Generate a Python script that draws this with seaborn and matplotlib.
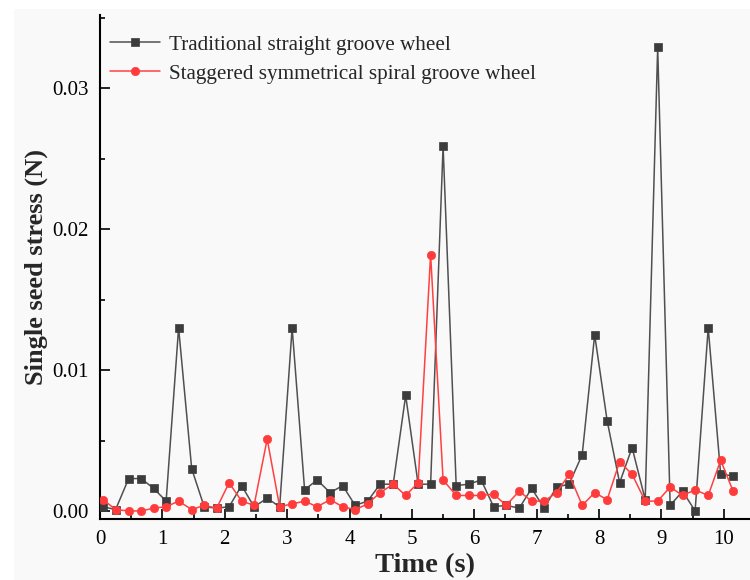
import matplotlib
matplotlib.use("Agg")
import matplotlib.pyplot as plt
from matplotlib.patches import Rectangle
from matplotlib.ticker import MultipleLocator, FormatStrFormatter
import pandas as pd
import seaborn as sns

# Sampling instants (s)
time_s = [0.05, 0.25, 0.46, 0.66, 0.86, 1.06, 1.26, 1.47, 1.67, 1.87,
          2.07, 2.27, 2.47, 2.68, 2.88, 3.08, 3.28, 3.48, 3.69, 3.89,
          4.09, 4.29, 4.49, 4.70, 4.90, 5.10, 5.30, 5.50, 5.71, 5.91,
          6.11, 6.31, 6.51, 6.72, 6.92, 7.12, 7.32, 7.52, 7.73, 7.93,
          8.13, 8.33, 8.53, 8.74, 8.94, 9.14, 9.34, 9.54, 9.75, 9.95,
          10.15]

# Single seed stress (N), traditional straight groove wheel
traditional = [0.0003, 0.0001, 0.0023, 0.0023, 0.0016, 0.0007, 0.0130, 0.0030, 0.0003, 0.0002,
               0.0003, 0.0018, 0.0003, 0.0009, 0.0003, 0.0130, 0.0015, 0.0022, 0.0013, 0.0018,
               0.0004, 0.0007, 0.0019, 0.0019, 0.0082, 0.0019, 0.0019, 0.0259, 0.0018, 0.0019,
               0.0022, 0.0003, 0.0004, 0.0002, 0.0016, 0.0002, 0.0017, 0.0019, 0.0040, 0.0125,
               0.0064, 0.0020, 0.0045, 0.0008, 0.0329, 0.0004, 0.0014, 0.0000, 0.0130, 0.0026,
               0.0025]

# Single seed stress (N), staggered symmetrical spiral groove wheel
staggered = [0.0008, 0.0001, 0.0000, 0.0000, 0.0002, 0.0003, 0.0007, 0.0001, 0.0004, 0.0002,
             0.0020, 0.0007, 0.0004, 0.0051, 0.0003, 0.0005, 0.0007, 0.0003, 0.0008, 0.0003,
             0.0001, 0.0005, 0.0013, 0.0019, 0.0011, 0.0020, 0.0182, 0.0022, 0.0011, 0.0011,
             0.0011, 0.0012, 0.0004, 0.0014, 0.0007, 0.0007, 0.0013, 0.0026, 0.0004, 0.0013,
             0.0008, 0.0035, 0.0026, 0.0007, 0.0007, 0.0017, 0.0011, 0.0015, 0.0011, 0.0036,
             0.0014]

wheel_names = ["Traditional straight groove wheel",
               "Staggered symmetrical spiral groove wheel"]

sns.set_style("ticks")
plt.rcParams["font.family"] = ["Liberation Serif", "DejaVu Serif"]

bg = "#f9f9f9"
fig = plt.figure(figsize=(7.5, 5.8), dpi=100, facecolor=bg)
fig.add_artist(Rectangle((0, 1 - 9 / 580), 1, 9 / 580, transform=fig.transFigure,
                         facecolor="white", edgecolor="none", zorder=-1))
fig.add_artist(Rectangle((0, 0), 14 / 750, 1, transform=fig.transFigure,
                         facecolor="white", edgecolor="none", zorder=-1))

ax = fig.add_axes([100 / 750, 61 / 580, 650 / 750, 504 / 580])
ax.set_facecolor(bg)

df = pd.DataFrame({
    "Time": time_s + time_s,
    "Stress": traditional + staggered,
    "Wheel": [wheel_names[0]] * len(time_s) + [wheel_names[1]] * len(time_s),
})

sns.lineplot(data=df[df["Wheel"] == wheel_names[0]], x="Time", y="Stress",
             color="#505050", linewidth=1.1, marker="s", markersize=5.5,
             markerfacecolor="#3c3c3c", markeredgecolor="#3c3c3c", markeredgewidth=0.5,
             label=wheel_names[0], ax=ax, zorder=3)
sns.lineplot(data=df[df["Wheel"] == wheel_names[1]], x="Time", y="Stress",
             color="#ff4040", linewidth=1.1, marker="o", markersize=6,
             markerfacecolor="#ff3b3b", markeredgecolor="#ff3b3b", markeredgewidth=0.5,
             label=wheel_names[1], ax=ax, zorder=4)

ax.set_xlim(0, 10.42)
ax.set_ylim(-0.00057, 0.0352)
ax.xaxis.set_major_locator(MultipleLocator(1))
ax.xaxis.set_minor_locator(MultipleLocator(0.5))
ax.yaxis.set_major_locator(MultipleLocator(0.01))
ax.yaxis.set_minor_locator(MultipleLocator(0.005))
ax.yaxis.set_major_formatter(FormatStrFormatter("%.2f"))

for side in ("top", "right"):
    ax.spines[side].set_visible(False)
for side in ("left", "bottom"):
    ax.spines[side].set_linewidth(1.5)
    ax.spines[side].set_color("black")

ax.tick_params(which="major", direction="in", length=7, width=1.2,
               labelsize=15, color="black", labelcolor="black")
ax.tick_params(which="minor", direction="in", length=3.5, width=1.2, color="black")
ax.tick_params(axis="x", which="major", pad=8)
ax.tick_params(axis="y", which="major", pad=8)

ax.set_xlabel("Time (s)", fontsize=20.5, fontweight="bold", labelpad=3)
ax.set_ylabel("Single seed stress (N)", fontsize=19, fontweight="bold", labelpad=3)

ax.legend(loc="upper left", bbox_to_anchor=(-0.0077, 0.99), frameon=False,
          fontsize=15.2, handlelength=2.4, handletextpad=0.4, labelspacing=0.44,
          borderaxespad=0.3, borderpad=0.4)

fig.savefig("out.png", dpi=100, facecolor=fig.get_facecolor())
